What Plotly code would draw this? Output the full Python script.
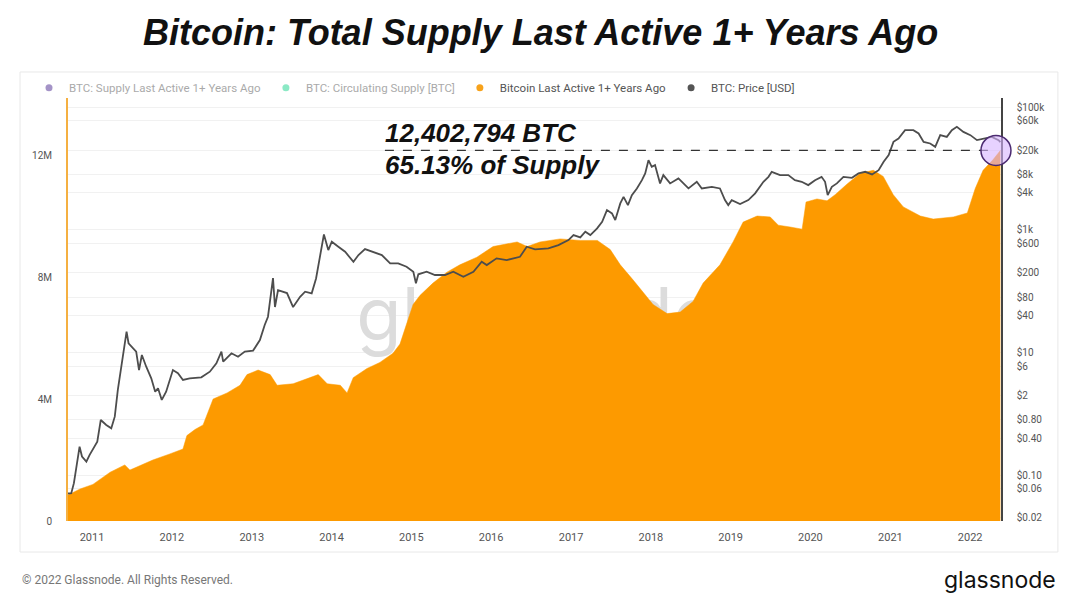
import plotly.graph_objects as go

# Price (USD), log scale on the right
price_dates = [
    "2010-09-13", "2010-09-28", "2010-10-10", "2010-11-05", "2010-11-16", "2010-12-06",
    "2010-12-21", "2011-01-13", "2011-01-25", "2011-02-10", "2011-03-07", "2011-03-30",
    "2011-04-15", "2011-04-29", "2011-05-15", "2011-05-30", "2011-06-08", "2011-06-17",
    "2011-07-07", "2011-07-22", "2011-08-04", "2011-08-17", "2011-09-06", "2011-09-29",
    "2011-10-17", "2011-10-30", "2011-11-16", "2011-12-06", "2012-01-06", "2012-01-29",
    "2012-02-21", "2012-03-23", "2012-05-15", "2012-06-23", "2012-07-23", "2012-08-15",
    "2012-08-23", "2012-09-30", "2012-10-30", "2012-11-30", "2013-01-07", "2013-02-07",
    "2013-03-01", "2013-03-16", "2013-04-08", "2013-04-17", "2013-05-01", "2013-06-11",
    "2013-07-09", "2013-08-10", "2013-09-02", "2013-10-02", "2013-10-22", "2013-11-06",
    "2013-11-27", "2013-12-17", "2014-01-02", "2014-02-01", "2014-03-04", "2014-04-11",
    "2014-05-04", "2014-06-03", "2014-07-11", "2014-08-19", "2014-09-26", "2014-11-02",
    "2014-12-10", "2015-01-10", "2015-01-22", "2015-02-02", "2015-03-12", "2015-04-19",
    "2015-06-04", "2015-07-12", "2015-08-27", "2015-10-12", "2015-11-19", "2015-12-12",
    "2016-01-26", "2016-03-12", "2016-05-12", "2016-06-12", "2016-07-20", "2016-09-19",
    "2016-11-04", "2016-12-20", "2017-01-12", "2017-02-12", "2017-03-07", "2017-03-30",
    "2017-04-30", "2017-05-23", "2017-06-14", "2017-07-07", "2017-07-22", "2017-08-14",
    "2017-08-29", "2017-09-18", "2017-10-06", "2017-10-29", "2017-11-21", "2017-12-06",
    "2017-12-21", "2018-01-05", "2018-01-20", "2018-02-12", "2018-02-27", "2018-03-30",
    "2018-05-07", "2018-06-22", "2018-07-30", "2018-08-22", "2018-10-07", "2018-11-13",
    "2018-12-06", "2018-12-21", "2019-01-06", "2019-02-13", "2019-03-23", "2019-04-23",
    "2019-05-31", "2019-06-08", "2019-06-23", "2019-07-08", "2019-08-15", "2019-09-22",
    "2019-10-22", "2019-11-22", "2019-12-22", "2020-01-22", "2020-02-21", "2020-03-08",
    "2020-03-20", "2020-04-08", "2020-05-01", "2020-05-31", "2020-07-09", "2020-08-08",
    "2020-09-08", "2020-10-09", "2020-11-08", "2020-12-01", "2020-12-24", "2021-01-15",
    "2021-02-07", "2021-03-09", "2021-04-16", "2021-05-10", "2021-06-02", "2021-07-02",
    "2021-07-25", "2021-08-17", "2021-09-16", "2021-10-09", "2021-11-01", "2021-12-01",
    "2022-01-02", "2022-02-01", "2022-03-03", "2022-04-10", "2022-05-11", "2022-05-19",
]
price_usd = [
    0.05, 0.0506, 0.0736, 0.29, 0.2, 0.166,
    0.213, 0.29, 0.351, 0.791, 0.656, 0.579,
    0.895, 2.44, 5.85, 11.7, 21.8, 14.1,
    11.7, 10.3, 5.16, 9.08, 5.85, 3.78,
    2.29, 2.6, 1.68, 2.29, 5.16, 4.57,
    3.55, 3.78, 3.93, 4.85, 6.65, 10.3,
    7.06, 9.68, 8.51, 10.3, 10.7, 15.9,
    28.0, 38.2, 163, 55, 104, 93,
    55, 80.9, 97.7, 92, 161, 321,
    841, 467, 638, 529, 438, 301,
    387, 485, 438, 387, 284, 284,
    250, 207, 134, 188, 207, 183,
    183, 207, 171, 207, 301, 266,
    342, 321, 363, 529, 480, 498,
    564, 680, 820, 752, 929, 820,
    1054, 1352, 2096, 1853, 1439, 2697,
    3451, 2529, 3681, 4732, 6457, 8310,
    13680, 10640, 11350, 5710, 7800, 5710,
    6890, 4732, 6070, 4732, 5025, 4732,
    3050, 2529, 3050, 2624, 3050, 3926,
    6070, 6457, 7310, 8830, 7800, 7800,
    6457, 6070, 5360, 6457, 7310, 6070,
    3681, 5025, 5710, 7310, 7050, 8310,
    8830, 8000, 9400, 12850, 16520, 27200,
    30900, 42200, 42200, 37300, 27200, 25600,
    22600, 35000, 32800, 42200, 47800, 39600,
    35000, 29000, 30900, 32800, 29000, 27000,
]

# Supply last active 1+ years ago (millions of BTC)
supply_dates = [
    "2010-09-13", "2010-11-07", "2011-01-05", "2011-03-25", "2011-05-31", "2011-06-23",
    "2011-07-25", "2011-10-06", "2011-12-23", "2012-02-21", "2012-03-10", "2012-04-16",
    "2012-05-23", "2012-06-15", "2012-07-08", "2012-09-10", "2012-11-08", "2012-12-10",
    "2013-01-30", "2013-03-26", "2013-04-27", "2013-07-09", "2013-09-25", "2013-11-01",
    "2013-12-12", "2014-02-10", "2014-03-13", "2014-04-10", "2014-06-12", "2014-08-10",
    "2014-10-09", "2014-11-10", "2014-12-12", "2015-01-09", "2015-02-10", "2015-04-10",
    "2015-06-13", "2015-08-11", "2015-10-28", "2016-01-10", "2016-04-29", "2016-06-14",
    "2016-08-12", "2016-11-12", "2017-02-12", "2017-05-01", "2017-06-29", "2017-08-14",
    "2017-10-12", "2017-11-27", "2018-01-11", "2018-03-16", "2018-05-15", "2018-07-13",
    "2018-08-28", "2018-11-13", "2018-12-15", "2019-01-12", "2019-02-27", "2019-05-02",
    "2019-07-01", "2019-08-07", "2019-09-30", "2019-11-24", "2019-12-12", "2020-01-31",
    "2020-03-17", "2020-04-23", "2020-06-17", "2020-08-16", "2020-10-15", "2020-11-29",
    "2021-01-14", "2021-03-01", "2021-05-18", "2021-07-16", "2021-10-16", "2021-12-19",
    "2022-01-24", "2022-03-01", "2022-04-16", "2022-05-19",
]
supply_m = [
    0.85, 1.05, 1.2, 1.6, 1.84, 1.67,
    1.77, 2.0, 2.2, 2.36, 2.8, 3.0,
    3.15, 3.57, 4.0, 4.2, 4.45, 4.8,
    4.95, 4.8, 4.45, 4.5, 4.7, 4.8,
    4.5, 4.45, 4.2, 4.7, 5.0, 5.2,
    5.5, 5.8, 6.5, 7.1, 7.4, 7.8,
    8.16, 8.4, 8.65, 9.0, 9.15, 9.0,
    9.15, 9.25, 9.2, 9.2, 8.9, 8.4,
    7.9, 7.5, 7.1, 6.8, 6.85, 7.2,
    7.8, 8.4, 8.8, 9.15, 9.8, 10.0,
    9.97, 9.7, 9.64, 9.57, 10.46, 10.56,
    10.5, 10.7, 11.05, 11.4, 11.5, 11.3,
    10.7, 10.3, 10.0, 9.9, 9.97, 10.1,
    10.9, 11.5, 11.85, 12.15,
]

price_ticks = [0.02, 0.06, 0.1, 0.4, 0.8, 2, 6, 10, 40, 80, 200, 600, 1000, 4000, 8000, 20000, 60000, 100000]
price_labels = ["$0.02", "$0.06", "$0.10", "$0.40", "$0.80", "$2", "$6", "$10", "$40", "$80",
                "$200", "$600", "$1k", "$4k", "$8k", "$20k", "$60k", "$100k"]
supply_ticks = [0, 4e6, 8e6, 12e6]
supply_labels = ["0", "4M", "8M", "12M"]

legend_names = ["BTC: Supply Last Active 1+ Years Ago", "BTC: Circulating Supply [BTC]",
                "Bitcoin Last Active 1+ Years Ago", "BTC: Price [USD]"]
legend_colors = ["#4b2a91", "#19d48c", "#f7a21b", "#555555"]

ORANGE = "#fd9a00"
FONT = "Liberation Sans, Arial, sans-serif"

fig = go.Figure()

# watermark sits under the orange area
fig.add_trace(go.Scatter(
    x=["2016-07-25"], y=[6.5e6], mode="text", text=["glassnode"],
    textfont=dict(size=74, color="#dcdcdc", family="Inter, Noto Sans, sans-serif"),
    hoverinfo="skip", showlegend=False))

fig.add_trace(go.Scatter(
    x=supply_dates, y=[v * 1e6 for v in supply_m],
    mode="lines", line=dict(color=ORANGE, width=0.5),
    fill="tozeroy", fillcolor=ORANGE, showlegend=False, name="Supply"))

fig.add_trace(go.Scatter(
    x=price_dates, y=price_usd, yaxis="y2",
    mode="lines", line=dict(color="#4d4d4d", width=1.8),
    showlegend=False, name="Price"))

# legend entries
for i, (nm, col) in enumerate(zip(legend_names, legend_colors)):
    fig.add_trace(go.Scatter(
        x=[None], y=[None], mode="markers", name=nm,
        marker=dict(size=7, color=col),
        visible="legendonly" if i < 2 else True))

last_val = supply_m[-1] * 1e6

# dashed marker line + highlight circle
fig.add_shape(type="line", xref="x", yref="y",
              x0="2014-09-02", x1="2022-04-20", y0=last_val, y1=last_val,
              line=dict(color="#333333", width=1.3, dash="dash"), layer="above")
fig.add_shape(type="circle", xref="paper", yref="y",
              xsizemode="pixel", ysizemode="pixel",
              xanchor=0.9946, yanchor=last_val,
              x0=-15, x1=15, y0=-15, y1=15,
              fillcolor="rgba(215,180,255,0.6)",
              line=dict(color="#4b2a70", width=1.5), layer="above")

# card border
fig.add_shape(type="rect", xref="paper", yref="paper",
              x0=-0.0514, x1=1.061, y0=-0.0733, y1=1.0615,
              line=dict(color="#e8e8e8", width=1), fillcolor="rgba(0,0,0,0)", layer="below")

fig.add_annotation(xref="paper", yref="paper", x=0.506, y=1.156,
                   text="Bitcoin: Total Supply Last Active 1+ Years Ago", showarrow=False,
                   font=dict(family=FONT, size=36, color="#111111", weight="bold", style="italic"),
                   xanchor="center", yanchor="middle")
fig.add_annotation(xref="paper", yref="paper", x=0.3376, y=0.917,
                   text="12,402,794 BTC", showarrow=False,
                   font=dict(family=FONT, size=26, color="#111111", weight="bold", style="italic"),
                   xanchor="left", yanchor="middle")
fig.add_annotation(xref="paper", yref="paper", x=0.3376, y=0.8416,
                   text="65.13% of Supply", showarrow=False,
                   font=dict(family=FONT, size=26, color="#111111", weight="bold", style="italic"),
                   xanchor="left", yanchor="middle")
fig.add_annotation(xref="paper", yref="paper", x=-0.0514, y=-0.14,
                   text="© 2022 Glassnode. All Rights Reserved.", showarrow=False,
                   font=dict(family="Roboto, sans-serif", size=12, color="#777777"),
                   xanchor="left", yanchor="middle")
fig.add_annotation(xref="paper", yref="paper", x=1.061, y=-0.14,
                   text="glassnode", showarrow=False,
                   font=dict(family="Inter, Noto Sans, sans-serif", size=23, color="#111111"),
                   xanchor="right", yanchor="middle")

fig.update_layout(
    width=1074, height=606,
    margin=dict(l=68, r=73, t=98, b=85),
    paper_bgcolor="white", plot_bgcolor="white",
    font=dict(family="Roboto, sans-serif", color="#555555", size=11),
    showlegend=True,
    legend=dict(orientation="h", x=-0.0418, y=1.024, xanchor="left", yanchor="middle",
                font=dict(size=11.5, color="#555555"), itemwidth=30,
                bgcolor="rgba(0,0,0,0)"),
    xaxis=dict(type="date", range=["2010-09-13", "2022-05-22"],
               dtick="M12", tick0="2011-01-01", tickformat="%Y",
               showgrid=False, zeroline=False, showline=False, ticks="",
               ticklabelstandoff=8, automargin=False,
               tickfont=dict(size=11, color="#555555")),
    yaxis=dict(range=[0, 13.87e6], tickvals=supply_ticks, ticktext=supply_labels,
               showgrid=False, zeroline=False, showline=True, linecolor="#f5b041", linewidth=2,
               ticks="", ticklabelstandoff=12, automargin=False,
               tickfont=dict(size=10, color="#555555")),
    yaxis2=dict(type="log", range=[-1.75, 5.15], overlaying="y", side="right",
                tickvals=price_ticks, ticktext=price_labels,
                showgrid=True, gridcolor="#f1f1f1", zeroline=False,
                showline=True, linecolor="#444444", linewidth=1.5,
                ticks="", ticklabelstandoff=12, automargin=False,
                tickfont=dict(size=10, color="#555555")),
)

# drop the default page margin so the figure sits at the window's top-left
fig.write_html("out.html", config={"displayModeBar": False},
               post_script="document.body.style.margin='0px';")
